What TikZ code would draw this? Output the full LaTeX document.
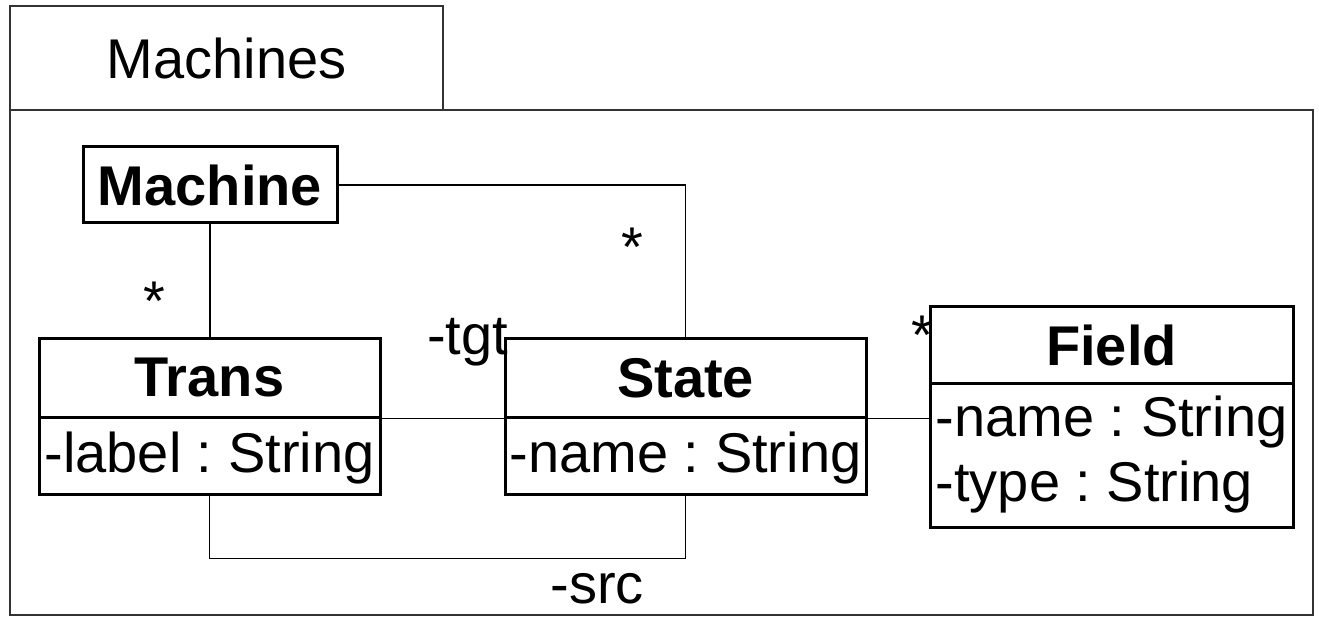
\documentclass[tikz,border=0pt]{standalone}
\usepackage{fontspec}
\setmainfont{Liberation Sans}
\newcommand\umlfont{\fontsize{56}{65}\selectfont\frenchspacing}
\begin{document}
\begin{tikzpicture}[x=1pt,y=-1pt,
  every node/.style={font=\umlfont, inner sep=0pt},
  pkgline/.style={draw=black!80, line width=1.5pt},
  classbox/.style={draw, line width=3pt},
  headbox/.style={classbox, font=\umlfont\bfseries},
  attrbox/.style={classbox, align=left},
  conn/.style={line width=1.6pt},
  mult/.style={anchor=base}]
\useasboundingbox (0,0) rectangle (1319,617);
% package
\node[pkgline, minimum width=1303pt, minimum height=505pt] (pkg) at (661.5,362.5) {};
\node[pkgline, minimum width=433pt, minimum height=104pt] (tab) at (226.5,58) {Machines};
% classes
\node[headbox, minimum width=254pt, minimum height=76pt] (machine) at (210,185) {Machine};
\node[headbox, minimum width=341pt, minimum height=78pt] (transH) at (209.5,378) {Trans};
\node[attrbox, minimum width=341pt, minimum height=77pt, text height=43pt, text depth=9pt] (transA) at (209.5,455.5) {-label : String};
\node[headbox, minimum width=361pt, minimum height=78pt] (stateH) at (685.5,378) {State};
\node[attrbox, minimum width=361pt, minimum height=77pt, text height=43pt, text depth=9pt] (stateA) at (685.5,455.5) {-name : String};
\node[headbox, minimum width=363pt, minimum height=76pt] (fieldH) at (1111.5,345) {Field};
\node[attrbox, minimum width=363pt, minimum height=144pt] (fieldA) at (1111.5,455) {-name : String\\-type : String};
% connectors
\draw[conn] (machine.east) -| (stateH.north);
\draw[conn] (machine.south) -- (machine.south |- transH.north);
\draw[conn] (transH.south east) -- (stateH.south west);
\draw[conn] (stateH.south east) -- (stateH.south east -| fieldA.west);
\draw[conn] (transA.south) -- ++(0,63) -| (stateA.south);
% labels
\node[mult] (m1) at (154,320) {*};
\node[mult] (m2) at (632,267) {*};
\node[mult] (m3) at (922,355) {*};
\node[mult] (tgt) at (467.5,355) {-tgt};
\node[mult] (src) at (597,603) {-src};
\end{tikzpicture}
\end{document}
